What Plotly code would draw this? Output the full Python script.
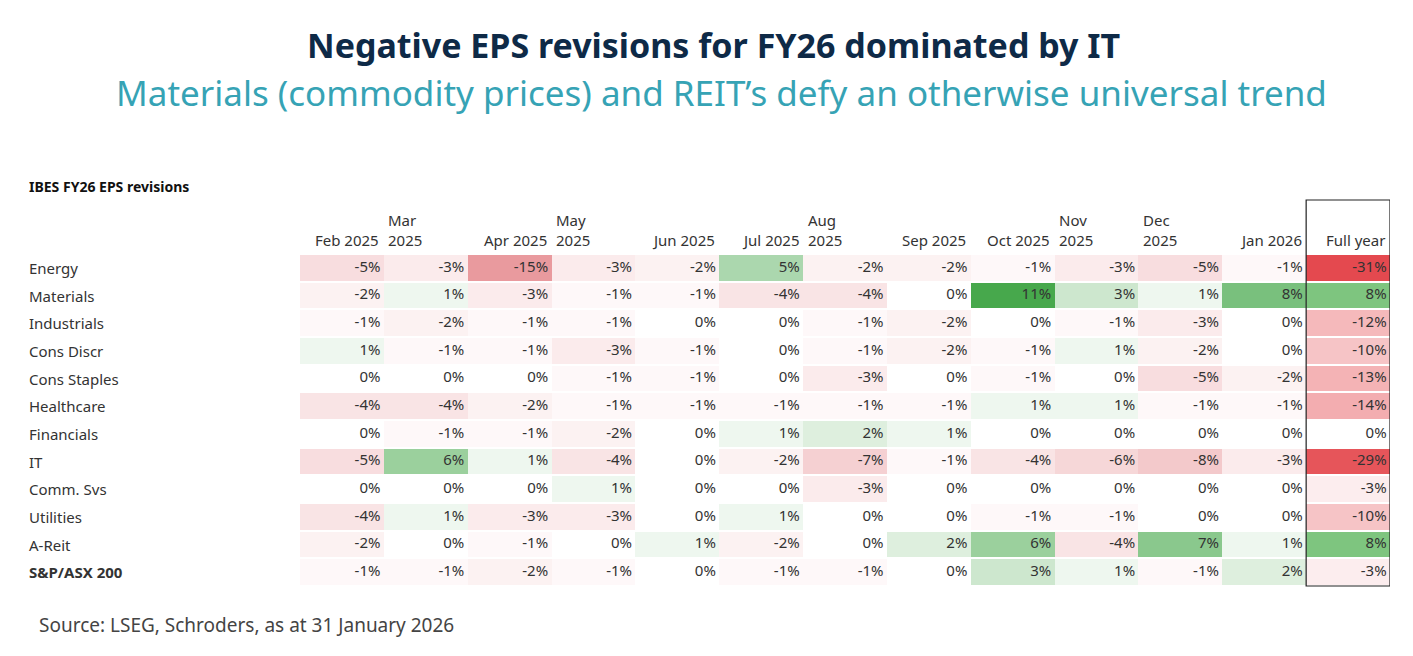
import plotly.graph_objects as go

rows = ["Energy", "Materials", "Industrials", "Cons Discr", "Cons Staples", "Healthcare",
        "Financials", "IT", "Comm. Svs", "Utilities", "A-Reit", "<b>S&P/ASX 200</b>"]
months = ["Feb 2025", "Mar<br>2025", "Apr 2025", "May<br>2025", "Jun 2025", "Jul 2025",
          "Aug<br>2025", "Sep 2025", "Oct 2025", "Nov<br>2025", "Dec<br>2025", "Jan 2026"]
monthly = [
    [-5, -3, -15, -3, -2, 5, -2, -2, -1, -3, -5, -1],
    [-2, 1, -3, -1, -1, -4, -4, 0, 11, 3, 1, 8],
    [-1, -2, -1, -1, 0, 0, -1, -2, 0, -1, -3, 0],
    [1, -1, -1, -3, -1, 0, -1, -2, -1, 1, -2, 0],
    [0, 0, 0, -1, -1, 0, -3, 0, -1, 0, -5, -2],
    [-4, -4, -2, -1, -1, -1, -1, -1, 1, 1, -1, -1],
    [0, -1, -1, -2, 0, 1, 2, 1, 0, 0, 0, 0],
    [-5, 6, 1, -4, 0, -2, -7, -1, -4, -6, -8, -3],
    [0, 0, 0, 1, 0, 0, -3, 0, 0, 0, 0, 0],
    [-4, 1, -3, -3, 0, 1, 0, 0, -1, -1, 0, 0],
    [-2, 0, -1, 0, 1, -2, 0, 2, 6, -4, 7, 1],
    [-1, -1, -2, -1, 0, -1, -1, 0, 3, 1, -1, 2],
]
full_year = [-31, 8, -12, -10, -13, -14, 0, -29, -3, -10, 8, -3]

# page body has an 8px margin; convert reference pixels to paper coords
W, H, OFF = 1413, 656, 8
def px(x): return (x - OFF) / W
def py(y): return 1 - (y - OFF) / H

mlo, mhi = min(map(min, monthly)), max(map(max, monthly))
flo, fhi = min(full_year), max(full_year)
mscale = [[0, "#e99a9e"], [-mlo / (mhi - mlo), "#ffffff"], [1, "#47a84c"]]
fscale = [[0, "#e4494f"], [-flo / (fhi - flo), "#ffffff"], [1, "#7ec57f"]]

n = len(months)
fig = go.Figure()
fig.add_trace(go.Heatmap(z=monthly, x=list(range(n)), y=list(range(len(rows))),
                         colorscale=mscale, zmin=mlo, zmax=mhi,
                         showscale=False, ygap=2, hoverinfo="skip"))
fig.add_trace(go.Heatmap(z=[[v] for v in full_year], x=[n], y=list(range(len(rows))),
                         colorscale=fscale, zmin=flo, zmax=fhi,
                         showscale=False, ygap=2, hoverinfo="skip"))

tx, ty, tt = [], [], []
for r, vals in enumerate(monthly):
    for c, v in enumerate(vals + [full_year[r]]):
        tx.append(c + 0.46); ty.append(r); tt.append(f"{v}%")
fig.add_trace(go.Scatter(x=tx, y=ty, text=tt, mode="text", textposition="middle left",
                         textfont=dict(size=15, color="#333"), hoverinfo="skip"))

for c, m in enumerate(months + ["Full year"]):
    wrapped = "<br>" in m
    fig.add_annotation(x=c - 0.47 if wrapped else c + 0.47, xanchor="left" if wrapped else "right",
                       y=py(252), yref="paper", yanchor="bottom", text=m, showarrow=False,
                       align="left", font=dict(size=15, color="#333"))
for r, name in enumerate(rows):
    fig.add_annotation(x=px(27), xref="paper", xanchor="left", y=r, text=name,
                       showarrow=False, font=dict(size=15, color="#333"))
fig.add_shape(type="rect", x0=n - 0.5, x1=n + 0.5, y0=py(586), y1=py(200), yref="paper",
              line=dict(color="#222", width=1.2))

fig.add_annotation(x=px(713), y=py(45), xref="paper", yref="paper", yanchor="middle",
                   showarrow=False,
                   text="<b>Negative EPS revisions for FY26 dominated by IT</b>",
                   font=dict(size=34, color="#0e2a47"))
fig.add_annotation(x=px(721), y=py(92), xref="paper", yref="paper", yanchor="middle",
                   showarrow=False,
                   text="Materials (commodity prices) and REIT’s defy an otherwise universal trend",
                   font=dict(size=35, color="#36a3b5"))
fig.add_annotation(x=px(27), y=py(186), xref="paper", yref="paper", xanchor="left",
                   yanchor="middle", showarrow=False, text="<b>IBES FY26 EPS revisions</b>",
                   font=dict(size=14, color="#111"))
fig.add_annotation(x=px(37), y=py(625), xref="paper", yref="paper", xanchor="left",
                   yanchor="middle", showarrow=False,
                   text="Source: LSEG, Schroders, as at 31 January 2026",
                   font=dict(size=19, color="#444"))

fig.update_layout(width=W, height=H, margin=dict(l=0, r=0, t=0, b=0),
                  plot_bgcolor="white", paper_bgcolor="white", showlegend=False,
                  font=dict(family="Noto Sans"))
fig.update_xaxes(domain=[px(300), px(1390)], range=[-0.5, n + 0.5], visible=False)
fig.update_yaxes(domain=[py(586), py(254)], range=[len(rows) - 0.5, -0.5], visible=False)
fig.write_html("out.html")
